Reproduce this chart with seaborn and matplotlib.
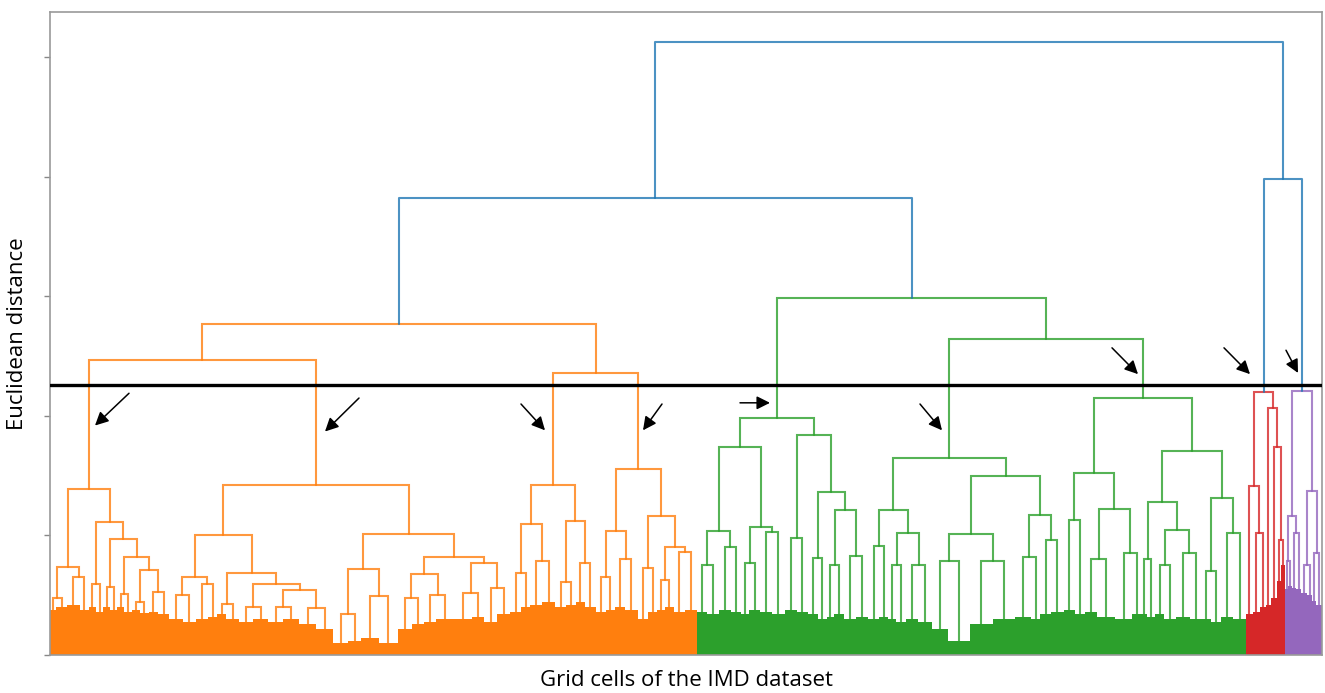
import matplotlib
matplotlib.use("Agg")
import matplotlib.pyplot as plt
import seaborn as sns

# ---------------------------------------------------------------- data
L = None  # terminal leaf group (a block of grid cells)

# merge heights (Euclidean distance) of each cluster, nested left -> right
orange_tree = (2.77,
    (2.47,
        (1.39, (0.74, (0.48, L, L), (0.65, L, L)),
               (1.11, (0.59, L, L),
                      (0.97, (0.57, L, L),
                             (0.82, (0.51, L, L), (0.71, (0.44, L, L), (0.53, L, L)))))),
        (1.42, (1.00, (0.65, (0.50, L, L), (0.59, L, L)),
                      (0.69, (0.43, L, L),
                             (0.59, (0.40, L, L), (0.54, (0.40, L, L), (0.39, L, L))))),
               (1.01, (0.72, (0.34, L, L), (0.49, L, L)),
                      (0.82, (0.68, (0.48, L, L), (0.50, L, L)),
                             (0.77, (0.52, L, L), (0.56, L, L)))))),
    (2.36,
        (1.42, (1.10, (0.69, L, L), (0.79, L, L)),
               (1.12, (0.61, L, L), (0.77, L, L))),
        (1.56, (1.04, (0.65, L, L), (0.80, L, L)),
               (1.16, (0.73, L, L), (0.90, (0.63, L, L), (0.86, L, L))))))

green_tree = (2.99,
    (1.98,
        (1.74, (1.04, (0.75, L, L), (0.90, L, L)),
               (1.07, (0.77, L, L), (1.03, L, L))),
        (1.84, (0.98, L, L),
               (1.36, (0.81, L, L), (1.21, (0.75, L, L), (0.83, L, L))))),
    (2.64,
        (1.65, (1.21, (0.91, L, L), (1.02, (0.75, L, L), (0.75, L, L))),
               (1.50, (1.01, (0.79, L, L), (0.79, L, L)),
                      (1.17, (0.82, L, L), (0.96, L, L)))),
        (2.15, (1.52, (1.13, L, L), (1.22, (0.80, L, L), (0.85, L, L))),
               (1.71, (1.28, (0.80, L, L), (1.05, (0.75, L, L), (0.85, L, L))),
                      (1.31, (0.70, L, L), (1.02, L, L))))))

red_tree = (2.20,
    (1.41, L, (1.02, L, L)),
    (2.07, L, (1.74, L, (0.96, L, L))))

purple_tree = (2.21,
    (1.16, (0.79, L, L), (1.02, L, L)),
    (1.37, (0.75, L, L), (0.85, L, L)))

# joins above the cut (blue links)
join_orange_green = 3.82
join_red_purple = 3.98
root_height = 5.13
cut_height = 2.26

# size (number of grid cells) of each leaf group, left -> right
orange_sizes = [12, 22, 25, 18, 15, 14, 14, 14, 14, 16, 16, 17, 19, 22, 27, 26, 25, 18, 18, 26,
                28, 30, 30, 32, 34, 34, 30, 26, 35, 38, 29, 24, 24, 36, 36, 24, 26, 26, 22, 18,
                24, 26, 22, 19, 19, 21, 21, 17, 21, 25, 21, 18, 16, 17, 22, 25]
green_sizes = [20, 23, 25, 19, 17, 22, 24, 25, 25, 21, 21, 17, 15, 20, 24, 24, 22, 18, 16, 20,
               24, 28, 32, 43, 47, 43, 33, 18, 22, 25, 22, 21, 24, 36, 34, 18, 12, 16, 18, 24,
               28, 22, 20, 20, 24, 26]
red_sizes = [13, 14, 12, 11, 11, 9, 8]
purple_sizes = [6, 8, 8, 10, 12, 10, 8, 12]

# height of the dense (unresolved) base of each leaf group
orange_base = [0.38, 0.40, 0.42, 0.38, 0.40, 0.36, 0.40, 0.38, 0.40, 0.36, 0.38, 0.35, 0.36, 0.34,
               0.30, 0.28, 0.30, 0.32, 0.34, 0.30, 0.28, 0.30, 0.28, 0.30, 0.26, 0.22,
               0.10, 0.12, 0.14, 0.10, 0.22, 0.26, 0.28, 0.30, 0.30, 0.32, 0.28, 0.34,
               0.36, 0.40, 0.42, 0.44, 0.40, 0.42, 0.44, 0.40, 0.36, 0.38, 0.40, 0.38,
               0.30, 0.36, 0.38, 0.40, 0.36, 0.38]
green_base = [0.36, 0.34, 0.38, 0.36, 0.34, 0.38, 0.36, 0.34, 0.38, 0.36, 0.34, 0.30, 0.32, 0.34,
              0.30, 0.32, 0.30, 0.32, 0.30, 0.28, 0.30, 0.28, 0.22, 0.12, 0.26, 0.30, 0.32, 0.30,
              0.34, 0.36, 0.38, 0.34, 0.36, 0.32, 0.30, 0.34, 0.34, 0.32, 0.34, 0.30, 0.32, 0.30,
              0.30, 0.28, 0.32, 0.30]
red_base = [0.34, 0.36, 0.40, 0.42, 0.48, 0.62, 0.75]
purple_base = [0.55, 0.58, 0.56, 0.55, 0.52, 0.50, 0.45, 0.42]

# annotation arrows (tail -> head) in data coordinates
arrow_tails = [(158, 2.19), (618, 2.15), (942, 2.10), (1224, 2.10), (1380, 2.11),
               (1740, 2.10), (2124, 2.57), (2348, 2.57), (2472, 2.55)]
arrow_heads = [(90, 1.92), (550, 1.87), (990, 1.88), (1186, 1.88), (1440, 2.11),
               (1784, 1.88), (2176, 2.35), (2400, 2.35), (2496, 2.36)]

# ---------------------------------------------------------------- style
sns.set_style("white")
plt.rcParams["font.family"] = ["Open Sans", "DejaVu Sans"]
pal = sns.color_palette("tab10")
above_color = pal[0]
clusters = [(orange_tree, orange_sizes, orange_base, pal[1]),
            (green_tree, green_sizes, green_base, pal[2]),
            (red_tree, red_sizes, red_base, pal[3]),
            (purple_tree, purple_sizes, purple_base, pal[4])]
LW = 1.5
ALPHA = 0.8

fig = plt.figure(figsize=(13.25, 6.93), dpi=100)
ax = fig.add_axes([50 / 1325, 1 - 655 / 693, 1272 / 1325, 643 / 693])


def draw(node, leaves, color):
    if node is None:
        return next(leaves)
    h, left, right = node
    xl, hl = draw(left, leaves, color)
    xr, hr = draw(right, leaves, color)
    ax.plot([xl, xl, xr, xr], [hl, h, h, hr], color=color, lw=LW, alpha=ALPHA, zorder=2,
            solid_joinstyle="miter")
    return (xl + xr) / 2, h


offset = 0
tops = []
for tree, sizes, base, color in clusters:
    centers = []
    for s in sizes:
        centers.append(offset + s / 2)
        offset += s
    ax.bar(centers, base, width=sizes, color=color, linewidth=0, zorder=1)
    tops.append(draw(tree, iter(zip(centers, base)), color))
total = offset

# blue links above the cut
(xo, ho), (xg, hg), (xr_, hr_), (xp, hp) = tops
ax.plot([xo, xo, xg, xg], [ho, join_orange_green, join_orange_green, hg],
        color=above_color, lw=LW, alpha=ALPHA, zorder=2)
ax.plot([xr_, xr_, xp, xp], [hr_, join_red_purple, join_red_purple, hp],
        color=above_color, lw=LW, alpha=ALPHA, zorder=2)
xa = (xo + xg) / 2
xb = (xr_ + xp) / 2
ax.plot([xa, xa, xb, xb], [join_orange_green, root_height, root_height, join_red_purple],
        color=above_color, lw=LW, alpha=ALPHA, zorder=2)

# cut line
ax.axhline(cut_height, color="black", lw=2.4, zorder=3)

# arrows
for t, hd in zip(arrow_tails, arrow_heads):
    ax.annotate("", xy=hd, xytext=t,
                arrowprops=dict(arrowstyle="-|>", color="black", lw=1.1,
                                mutation_scale=20, shrinkA=0, shrinkB=0),
                zorder=4)

ax.set_xlim(0, total)
ax.set_ylim(0, 5.38)
ax.set_xticks([])
ax.set_yticks([0, 1, 2, 3, 4, 5])
ax.set_yticklabels([])
ax.tick_params(axis="y", which="both", left=True, length=4, width=1, color="#888888",
               direction="out")
for sp in ax.spines.values():
    sp.set_visible(True)
    sp.set_color("#9a9a9a")
    sp.set_linewidth(1.2)

ax.set_xlabel("Grid cells of the IMD dataset", fontsize=16, color="black", labelpad=11)
ax.set_ylabel("Euclidean distance", fontsize=16, color="black", labelpad=8)

fig.savefig("out.png", dpi=100)
